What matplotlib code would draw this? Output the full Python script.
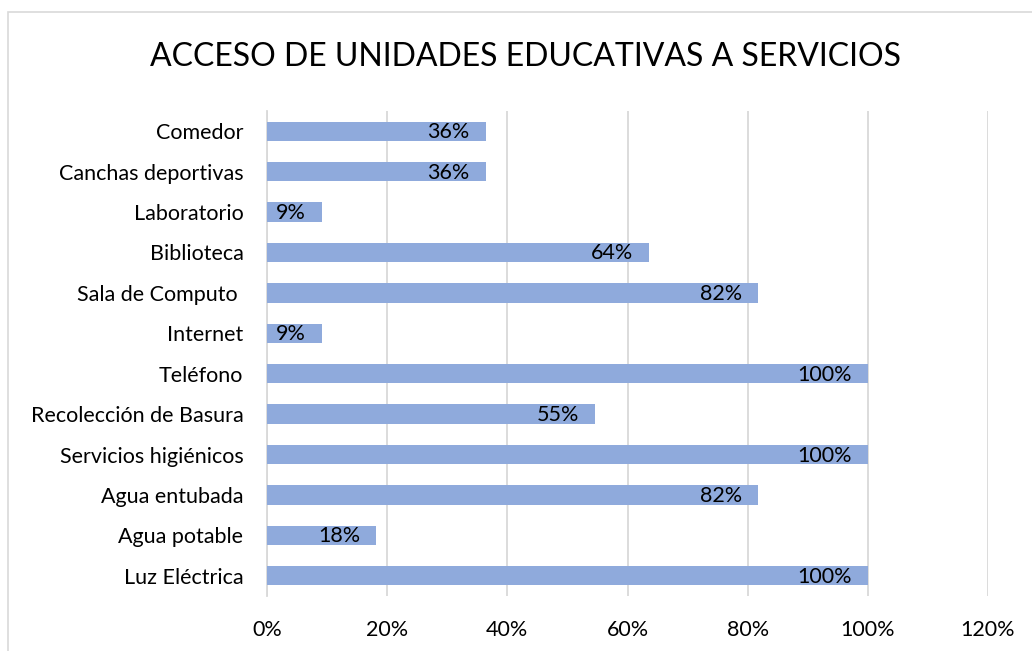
import matplotlib
matplotlib.use("Agg")
import matplotlib.pyplot as plt
from matplotlib.patches import Rectangle

categories = ["Comedor", "Canchas deportivas", "Laboratorio", "Biblioteca",
              "Sala de Computo ", "Internet", "Teléfono", "Recolección de Basura",
              "Servicios higiénicos", "Agua entubada", "Agua potable", "Luz Eléctrica"]
values = [36.4, 36.4, 9.1, 63.6, 81.8, 9.1, 100, 54.6, 100, 81.8, 18.2, 100]
xticks = [0, 20, 40, 60, 80, 100, 120]
title = "ACCESO DE UNIDADES EDUCATIVAS A SERVICIOS"

plt.rcParams['font.family'] = ['Lato', 'DejaVu Sans']

W, H = 1032, 651
fig = plt.figure(figsize=(W / 100, H / 100), dpi=100)
# chart frame
fig.patches.append(Rectangle((8 / W, -0.1), 1.2, (H - 12) / H + 0.1,
                             transform=fig.transFigure, fill=False,
                             edgecolor="#D9D9D9", linewidth=1.2))

left, right, top, bottom = 267, 988, 111, 596
ax = fig.add_axes([left / W, 1 - bottom / H, (right - left) / W, (bottom - top) / H])

n = len(categories)
ypos = list(range(n))[::-1]
ax.barh(ypos, values, height=0.48, color="#8FAADC", zorder=3)
ax.set_ylim(-0.5, n - 0.5)
ax.set_xlim(0, 120)
ax.set_yticks(ypos)
ax.set_yticklabels(categories, fontsize=15.5, color="#000000")
ax.set_xticks(xticks)
ax.set_xticklabels([f"{t}%" for t in xticks], fontsize=15.5, color="#000000")
ax.tick_params(axis="both", length=0)
ax.tick_params(axis="y", pad=17)
ax.tick_params(axis="x", pad=17)
ax.grid(axis="x", color="#D9D9D9", linewidth=1.3, zorder=0)
for s in ["top", "right", "bottom"]:
    ax.spines[s].set_visible(False)
ax.spines["left"].set_color("#D9D9D9")
ax.spines["left"].set_linewidth(1.3)

for y, v in zip(ypos, values):
    ax.annotate(f"{round(v)}%", xy=(v, y), xytext=(-16, -1), textcoords="offset pixels",
                ha="right", va="center", fontsize=15.5, color="#000000", zorder=4)

fig.text(525 / W, 1 - 57 / H, title, ha="center", va="center", fontsize=23, color="#000000")

fig.savefig("out.png", dpi=100)
